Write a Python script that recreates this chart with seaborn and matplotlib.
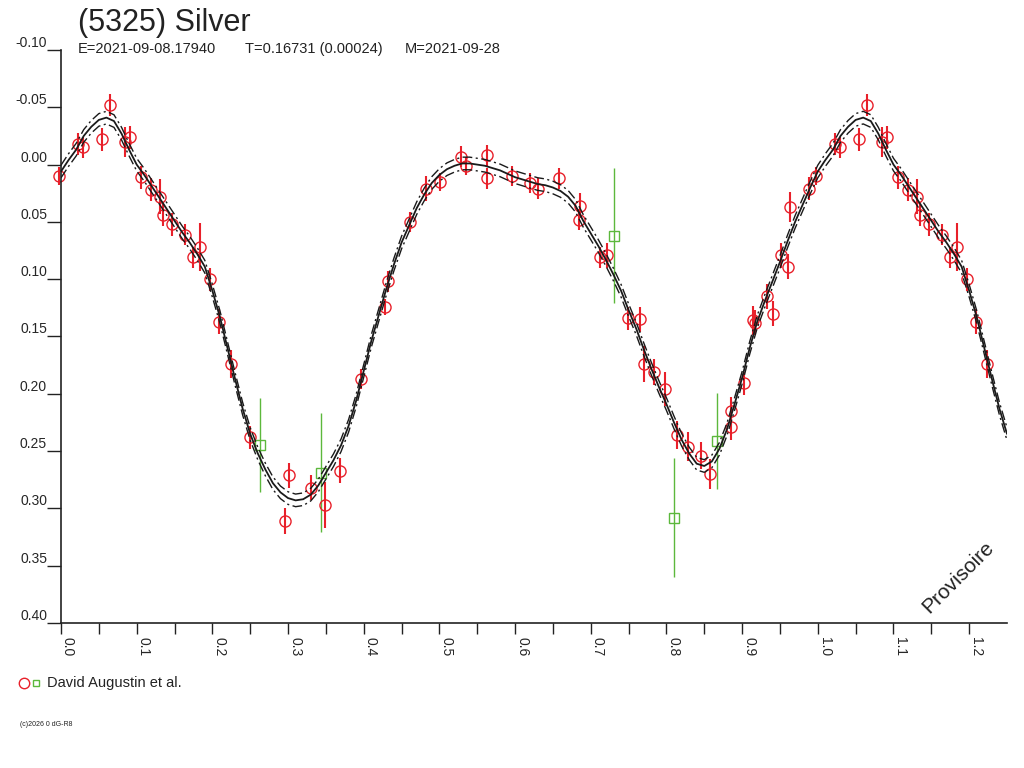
import numpy as np
import pandas as pd
import matplotlib
matplotlib.use('Agg')
import matplotlib.pyplot as plt
import seaborn as sns
from matplotlib.lines import Line2D

# ===================== 数据：相位 / 星等 / 误差 =====================
# 红色圆点（主观测）
red_phase = [0.997, 0.0228, 0.0294, 0.0541, 0.0650, 0.0848, 0.0910, 0.1055, 0.119, 0.131,
             0.1354, 0.1463, 0.1639, 0.1750, 0.1837, 0.1968, 0.2087, 0.2241, 0.2492, 0.3019,
             0.2957, 0.3305, 0.3490, 0.3682, 0.3964, 0.4276, 0.4324, 0.4610, 0.4821, 0.5014,
             0.5283, 0.5353, 0.5633, 0.5633, 0.5955, 0.6193, 0.6302, 0.6583, 0.6860, 0.6839,
             0.7123, 0.7212, 0.7498, 0.7656, 0.7703, 0.7831, 0.7985, 0.8138, 0.8289, 0.8455,
             0.8570, 0.8856, 0.8856, 0.9022, 0.9140, 0.9172, 0.9413, 0.9330, 0.9607, 0.9510,
             0.9638, 0.9888]
red_mag = [0.010, -0.018, -0.015, -0.022, -0.052, -0.020, -0.024, 0.011, 0.022, 0.028,
           0.044, 0.052, 0.061, 0.081, 0.072, 0.100, 0.137, 0.174, 0.238, 0.271,
           0.311, 0.282, 0.297, 0.267, 0.187, 0.124, 0.102, 0.050, 0.021, 0.015,
           -0.007, 0.001, -0.008, 0.012, 0.010, 0.016, 0.021, 0.012, 0.036, 0.048,
           0.081, 0.079, 0.134, 0.135, 0.174, 0.181, 0.196, 0.236, 0.246, 0.254,
           0.270, 0.229, 0.215, 0.191, 0.136, 0.138, 0.130, 0.115, 0.089, 0.079,
           0.037, 0.021]
red_err = [0.008, 0.010, 0.009, 0.010, 0.010, 0.013, 0.010, 0.010, 0.010, 0.015,
           0.010, 0.010, 0.009, 0.009, 0.021, 0.010, 0.011, 0.012, 0.010, 0.011,
           0.011, 0.011, 0.020, 0.011, 0.009, 0.007, 0.009, 0.009, 0.011, 0.008,
           0.009, 0.008, 0.009, 0.009, 0.009, 0.009, 0.009, 0.009, 0.011, 0.009,
           0.009, 0.011, 0.010, 0.011, 0.016, 0.011, 0.015, 0.012, 0.013, 0.012,
           0.013, 0.011, 0.012, 0.010, 0.013, 0.011, 0.011, 0.011, 0.011, 0.011,
           0.013, 0.010]

# 绿色方块（第二组观测）
green_phase = [0.2633, 0.3441, 0.7313, 0.8099, 0.8671]
green_mag = [0.245, 0.269, 0.062, 0.308, 0.241]
green_err = [0.041, 0.052, 0.059, 0.052, 0.042]

# 拟合曲线（一个周期）
curve_phase = [round(0.01 * i, 2) for i in range(101)]
curve_mag = [0.006, -0.004, -0.013, -0.025, -0.033, -0.039, -0.041, -0.038, -0.027, -0.013,
             0.000, 0.009, 0.019, 0.029, 0.039, 0.049, 0.059, 0.068, 0.078, 0.089,
             0.110, 0.133, 0.160, 0.187, 0.213, 0.235, 0.252, 0.266, 0.278, 0.286,
             0.291, 0.293, 0.292, 0.288, 0.280, 0.269, 0.258, 0.245, 0.228, 0.206,
             0.180, 0.154, 0.131, 0.108, 0.087, 0.068, 0.053, 0.038, 0.026, 0.016,
             0.009, 0.004, 0.001, -0.001, -0.001, 0.000, 0.001, 0.003, 0.005, 0.008,
             0.011, 0.013, 0.015, 0.017, 0.018, 0.020, 0.023, 0.028, 0.036, 0.049,
             0.060, 0.071, 0.083, 0.096, 0.110, 0.127, 0.143, 0.161, 0.178, 0.194,
             0.209, 0.225, 0.240, 0.252, 0.261, 0.263, 0.259, 0.248, 0.231, 0.209,
             0.186, 0.160, 0.137, 0.119, 0.102, 0.085, 0.067, 0.050, 0.035, 0.020,
             0.006]
band = 0.0055

x_ticks = [0.0, 0.1, 0.2, 0.3, 0.4, 0.5, 0.6, 0.7, 0.8, 0.9, 1.0, 1.1, 1.2]
x_labels = ['0.0', '0.1', '0.2', '0.3', '0.4', '0.5', '0.6', '0.7', '0.8', '0.9', '1.0', '1.1', '1.2']
y_ticks = [-0.10, -0.05, 0.00, 0.05, 0.10, 0.15, 0.20, 0.25, 0.30, 0.35, 0.40]
y_labels = ['-0.10', '-0.05', '0.00', '0.05', '0.10', '0.15', '0.20', '0.25', '0.30', '0.35', '0.40']

title = '(5325) Silver'
sub_e = 'E=2021-09-08.17940'
sub_t = 'T=0.16731 (0.00024)'
sub_m = 'M=2021-09-28'
observer = 'David Augustin et al.'

RED = '#e8202a'
GREEN = '#5cb83c'
X_MAX = 1.25
PT_MAX = 1.24   # 观测点只画到这里


def fold(phase, mag, err):
    """把一个周期的数据复制到相位 -0.01 ~ PT_MAX 范围"""
    p = np.asarray(phase); m = np.asarray(mag); e = np.asarray(err)
    xs, ys, es = [], [], []
    for shift in (-1, 0, 1):
        sel = (p + shift >= -0.01) & (p + shift <= PT_MAX)
        xs.append(p[sel] + shift); ys.append(m[sel]); es.append(e[sel])
    return np.concatenate(xs), np.concatenate(ys), np.concatenate(es)


# ===================== 绘图 =====================
sns.set_style('white')
plt.rcParams['font.family'] = ['Liberation Sans', 'DejaVu Sans']

fig = plt.figure(figsize=(10.24, 7.68), dpi=100)
ax = fig.add_axes([61 / 1024, 1 - 623 / 768, (1007 - 61) / 1024, (623 - 50) / 768])

# 拟合曲线延伸到 1.25
cp = np.array(curve_phase)
cm = np.array(curve_mag)
ext = (cp > 0) & (cp + 1 <= X_MAX)
curve_df = pd.DataFrame({
    'phase': np.concatenate([cp, cp[ext] + 1]),
    'mag': np.concatenate([cm, cm[ext]]),
})

# 观测点
rx, ry, re = fold(red_phase, red_mag, red_err)
gx, gy, ge = fold(green_phase, green_mag, green_err)
ax.errorbar(rx, ry, yerr=re, fmt='o', ms=8, mfc='none', mec=RED, mew=1.0,
            ecolor=RED, elinewidth=1.5, capsize=0, clip_on=False, zorder=2)
ax.errorbar(gx, gy, yerr=ge, fmt='s', ms=6.5, mfc='none', mec=GREEN, mew=1.0,
            ecolor=GREEN, elinewidth=1.0, capsize=0, clip_on=False, zorder=2)

sns.lineplot(data=curve_df, x='phase', y='mag', ax=ax, color='#1a1a1a', lw=1.3,
             sort=False, estimator=None, zorder=3)
sns.lineplot(x=curve_df['phase'], y=curve_df['mag'] - band, ax=ax, color='#1a1a1a', lw=1.0,
             linestyle=(0, (7, 2.5, 1.5, 2.5)), sort=False, estimator=None, zorder=3)
sns.lineplot(x=curve_df['phase'], y=curve_df['mag'] + band, ax=ax, color='#1a1a1a', lw=1.0,
             linestyle=(0, (7, 2.5, 1.5, 2.5)), sort=False, estimator=None, zorder=3)

ax.set_xlim(0, X_MAX)
ax.set_ylim(0.40, -0.10)
ax.set_xlabel('')
ax.set_ylabel('')

ax.set_xticks(x_ticks)
ax.set_xticks(np.arange(0.05, 1.25, 0.1), minor=True)
ax.set_xticklabels(x_labels, rotation=-90, rotation_mode='anchor', ha='left', va='bottom')
ax.set_yticks(y_ticks)
ax.set_yticklabels(y_labels)
for lab in ax.get_yticklabels():
    lab.set_va('bottom')

ax.tick_params(axis='x', which='both', direction='out', length=8, width=1,
               color='#222222', labelsize=10, pad=2, bottom=True)
ax.tick_params(axis='y', direction='out', length=10, width=1, color='#222222',
               labelsize=10, pad=0, left=True)

for side in ('top', 'right'):
    ax.spines[side].set_visible(False)
for side in ('left', 'bottom'):
    ax.spines[side].set_color('#222222')
    ax.spines[side].set_linewidth(1.2)

# 标题与说明文字
fig.text(78 / 1024, 1 - 31 / 768, title, fontsize=22, color='#222222', va='baseline')
fig.text(78 / 1024, 1 - 53 / 768, sub_e, fontsize=10.5, color='#222222', va='baseline')
fig.text(245 / 1024, 1 - 53 / 768, sub_t, fontsize=10.5, color='#222222', va='baseline')
fig.text(405 / 1024, 1 - 53 / 768, sub_m, fontsize=10.5, color='#222222', va='baseline')

fig.text(958 / 1024, 1 - 577 / 768, 'Provisoire', fontsize=15, rotation=45,
         ha='center', va='center', color='#222222')

# 图例
fig.add_artist(Line2D([24 / 1024], [1 - 683 / 768], marker='o', ms=7.5, mfc='none',
                      mec=RED, mew=1.0, transform=fig.transFigure))
fig.add_artist(Line2D([36 / 1024], [1 - 683 / 768], marker='s', ms=5, mfc='none',
                      mec=GREEN, mew=1.0, transform=fig.transFigure))
fig.text(47 / 1024, 1 - 683 / 768, observer, fontsize=10.5, va='center', color='#222222')
fig.text(20 / 1024, 1 - 725 / 768, '(c)2026 0 dG-R8', fontsize=5, va='center', color='#222222')

fig.savefig('out.png', dpi=100)
